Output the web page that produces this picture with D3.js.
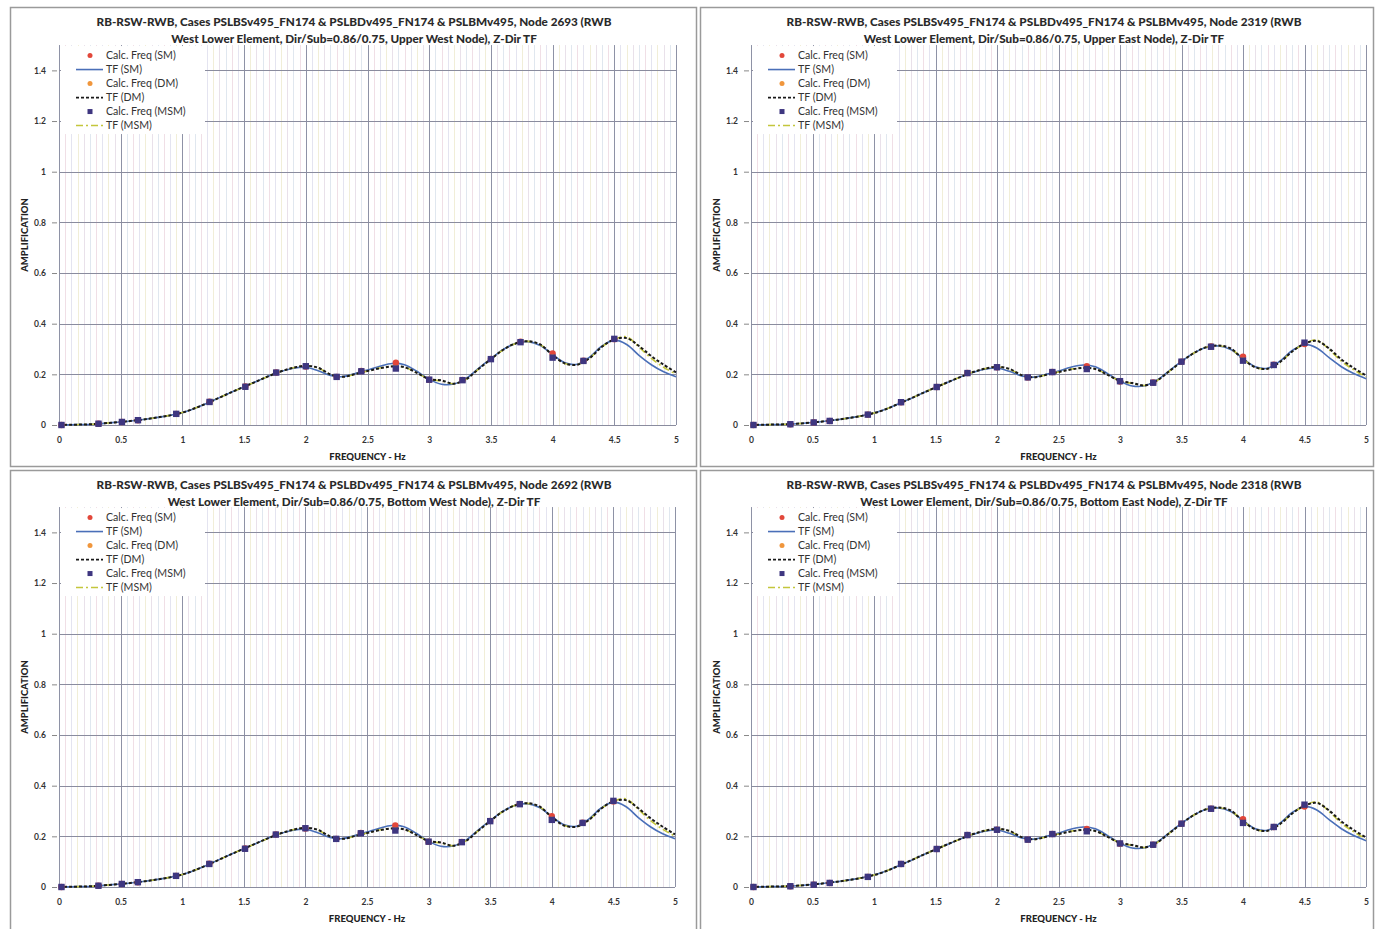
<!DOCTYPE html>
<html><head><meta charset="utf-8">
<script src="https://cdn.jsdelivr.net/npm/d3@7"></script>
<style>
html,body{margin:0;padding:0;background:#fff;}
svg{display:block;}
text{font-family:Lato,"Liberation Sans",Arial,sans-serif;}
</style></head><body>
<svg id="c" width="1375" height="929"></svg>
<script>
// ---------- DATA ----------
const tfFreq = [0,0.1,0.2,0.3,0.4,0.5,0.6,0.7,0.8,0.9,1,1.1,1.2,1.3,1.4,1.5,1.6,1.7,1.8,1.9,2,2.1,2.2,2.3,2.4,2.5,2.6,2.7,2.8,2.9,3,3.1,3.2,3.3,3.4,3.5,3.6,3.7,3.8,3.9,4,4.1,4.2,4.3,4.4,4.5,4.6,4.7,4.8,4.9,5];
const calcFreq = [0.02,0.32,0.51,0.64,0.95,1.22,1.51,1.76,2.0,2.25,2.45,2.73,3.0,3.27,3.5,3.74,4.0,4.25,4.5];
const xTicks = [0,0.5,1,1.5,2,2.5,3,3.5,4,4.5,5];
const yTicks = [0,0.2,0.4,0.6,0.8,1,1.2,1.4];
const legendLabels = ["Calc. Freq (SM)","TF (SM)","Calc. Freq (DM)","TF (DM)","Calc. Freq (MSM)","TF (MSM)"];

// Node 2693 (Upper West)
const tf2693SM  = [0,0.001,0.002,0.004,0.008,0.012,0.017,0.023,0.030,0.038,0.049,0.066,0.086,0.108,0.130,0.151,0.172,0.193,0.211,0.224,0.228,0.214,0.196,0.191,0.203,0.217,0.232,0.243,0.238,0.212,0.180,0.161,0.162,0.184,0.224,0.262,0.298,0.322,0.329,0.314,0.278,0.246,0.240,0.268,0.312,0.335,0.318,0.275,0.238,0.210,0.190];
const tf2693DM  = [0,0.001,0.002,0.004,0.008,0.012,0.017,0.023,0.030,0.038,0.049,0.066,0.086,0.108,0.130,0.151,0.172,0.193,0.212,0.226,0.234,0.226,0.200,0.190,0.201,0.213,0.224,0.231,0.228,0.206,0.181,0.176,0.163,0.181,0.221,0.260,0.297,0.322,0.331,0.318,0.276,0.243,0.238,0.264,0.309,0.338,0.343,0.312,0.272,0.238,0.208];
const tf2693MSM = [0,0.001,0.002,0.004,0.008,0.012,0.017,0.023,0.030,0.038,0.049,0.066,0.086,0.108,0.130,0.151,0.172,0.193,0.212,0.226,0.233,0.225,0.200,0.190,0.201,0.213,0.225,0.232,0.228,0.206,0.181,0.174,0.163,0.181,0.221,0.260,0.297,0.322,0.330,0.317,0.276,0.243,0.238,0.264,0.309,0.338,0.348,0.308,0.263,0.228,0.201];
const calc2693SM  = [0.000,0.005,0.012,0.019,0.044,0.092,0.152,0.207,0.231,0.190,0.213,0.246,0.178,0.178,0.261,0.329,0.282,0.254,0.339];
const calc2693DM  = [0.000,0.005,0.012,0.019,0.044,0.091,0.151,0.207,0.233,0.190,0.212,0.226,0.180,0.177,0.260,0.328,0.268,0.253,0.340];
const calc2693MSM = [0.000,0.005,0.012,0.019,0.044,0.091,0.151,0.207,0.232,0.190,0.212,0.223,0.179,0.177,0.260,0.327,0.266,0.253,0.340];

// Node 2319 (Upper East)
const tf2319SM  = [0,0.001,0.002,0.003,0.006,0.010,0.015,0.021,0.028,0.036,0.047,0.063,0.084,0.105,0.127,0.148,0.169,0.189,0.207,0.220,0.225,0.212,0.194,0.189,0.200,0.213,0.228,0.237,0.230,0.203,0.173,0.154,0.155,0.177,0.214,0.251,0.284,0.306,0.312,0.298,0.262,0.230,0.224,0.252,0.294,0.318,0.304,0.266,0.230,0.203,0.183];
const tf2319DM  = [0,0.001,0.002,0.003,0.006,0.010,0.015,0.021,0.028,0.036,0.047,0.063,0.084,0.105,0.127,0.148,0.169,0.189,0.208,0.222,0.230,0.222,0.197,0.188,0.198,0.209,0.219,0.225,0.221,0.198,0.174,0.166,0.156,0.175,0.212,0.250,0.284,0.307,0.314,0.302,0.260,0.228,0.222,0.248,0.290,0.321,0.332,0.302,0.259,0.225,0.196];
const tf2319MSM = [0,0.001,0.002,0.003,0.006,0.010,0.015,0.021,0.028,0.036,0.047,0.063,0.084,0.105,0.127,0.148,0.169,0.189,0.208,0.222,0.229,0.221,0.197,0.188,0.198,0.209,0.220,0.226,0.221,0.198,0.174,0.164,0.156,0.175,0.212,0.250,0.284,0.307,0.313,0.301,0.260,0.228,0.222,0.248,0.290,0.321,0.336,0.298,0.252,0.218,0.190];
const calc2319SM  = [0.000,0.003,0.010,0.016,0.041,0.090,0.150,0.205,0.228,0.188,0.209,0.232,0.172,0.168,0.250,0.310,0.270,0.238,0.320];
const calc2319DM  = [0.000,0.003,0.010,0.016,0.041,0.090,0.150,0.205,0.229,0.188,0.209,0.222,0.173,0.167,0.250,0.310,0.256,0.237,0.325];
const calc2319MSM = [0.000,0.003,0.010,0.016,0.041,0.090,0.150,0.205,0.228,0.188,0.209,0.221,0.173,0.167,0.250,0.309,0.254,0.237,0.325];

// Node 2692 (Bottom West)
const tf2692SM  = [0,0.001,0.002,0.004,0.008,0.012,0.017,0.023,0.030,0.038,0.049,0.066,0.086,0.108,0.130,0.151,0.172,0.193,0.211,0.224,0.228,0.214,0.196,0.191,0.203,0.217,0.232,0.243,0.238,0.212,0.180,0.161,0.162,0.184,0.224,0.262,0.298,0.322,0.329,0.314,0.278,0.246,0.240,0.268,0.312,0.335,0.318,0.275,0.238,0.210,0.190];
const tf2692DM  = [0,0.001,0.002,0.004,0.008,0.012,0.017,0.023,0.030,0.038,0.049,0.066,0.086,0.108,0.130,0.151,0.172,0.193,0.212,0.226,0.234,0.226,0.200,0.190,0.201,0.213,0.224,0.231,0.228,0.206,0.181,0.176,0.163,0.181,0.221,0.260,0.297,0.322,0.331,0.318,0.276,0.243,0.238,0.264,0.309,0.338,0.343,0.312,0.272,0.238,0.208];
const tf2692MSM = [0,0.001,0.002,0.004,0.008,0.012,0.017,0.023,0.030,0.038,0.049,0.066,0.086,0.108,0.130,0.151,0.172,0.193,0.212,0.226,0.233,0.225,0.200,0.190,0.201,0.213,0.225,0.232,0.228,0.206,0.181,0.174,0.163,0.181,0.221,0.260,0.297,0.322,0.330,0.317,0.276,0.243,0.238,0.264,0.309,0.338,0.348,0.308,0.263,0.228,0.201];
const calc2692SM  = [0.000,0.005,0.012,0.019,0.044,0.092,0.152,0.207,0.231,0.190,0.213,0.243,0.178,0.178,0.261,0.328,0.280,0.254,0.338];
const calc2692DM  = [0.000,0.005,0.012,0.019,0.044,0.091,0.151,0.207,0.233,0.190,0.212,0.226,0.180,0.177,0.260,0.328,0.267,0.253,0.340];
const calc2692MSM = [0.000,0.005,0.012,0.019,0.044,0.091,0.151,0.207,0.232,0.190,0.212,0.223,0.179,0.177,0.260,0.327,0.265,0.253,0.340];

// Node 2318 (Bottom East)
const tf2318SM  = [0,0.001,0.002,0.003,0.006,0.010,0.015,0.021,0.028,0.036,0.047,0.063,0.084,0.105,0.127,0.148,0.169,0.189,0.207,0.220,0.225,0.212,0.194,0.189,0.200,0.213,0.228,0.237,0.230,0.203,0.173,0.154,0.155,0.177,0.214,0.251,0.284,0.306,0.312,0.298,0.262,0.230,0.224,0.252,0.294,0.318,0.304,0.266,0.230,0.203,0.183];
const tf2318DM  = [0,0.001,0.002,0.003,0.006,0.010,0.015,0.021,0.028,0.036,0.047,0.063,0.084,0.105,0.127,0.148,0.169,0.189,0.208,0.222,0.230,0.222,0.197,0.188,0.198,0.209,0.219,0.225,0.221,0.198,0.174,0.166,0.156,0.175,0.212,0.250,0.284,0.307,0.314,0.302,0.260,0.228,0.222,0.248,0.290,0.321,0.332,0.302,0.259,0.225,0.196];
const tf2318MSM = [0,0.001,0.002,0.003,0.006,0.010,0.015,0.021,0.028,0.036,0.047,0.063,0.084,0.105,0.127,0.148,0.169,0.189,0.208,0.222,0.229,0.221,0.197,0.188,0.198,0.209,0.220,0.226,0.221,0.198,0.174,0.164,0.156,0.175,0.212,0.250,0.284,0.307,0.313,0.301,0.260,0.228,0.222,0.248,0.290,0.321,0.336,0.298,0.252,0.218,0.190];
const calc2318SM  = [0.000,0.003,0.009,0.016,0.040,0.091,0.150,0.205,0.226,0.187,0.209,0.229,0.171,0.167,0.250,0.309,0.268,0.237,0.318];
const calc2318DM  = [0.000,0.003,0.009,0.016,0.040,0.091,0.150,0.205,0.227,0.187,0.209,0.221,0.172,0.167,0.250,0.309,0.254,0.237,0.325];
const calc2318MSM = [0.000,0.003,0.009,0.016,0.040,0.091,0.150,0.205,0.226,0.187,0.209,0.220,0.172,0.167,0.250,0.309,0.253,0.237,0.325];

// ---------- LAYOUT ----------
const panels = [
  {node:"2693", where:"Upper West Node",  sm:tf2693SM, dm:tf2693DM, msm:tf2693MSM, csm:calc2693SM, cdm:calc2693DM, cmsm:calc2693MSM,
   box:[10.5,7.5,686,459], left:59, right:676, base:425, titleX:354, titleY:22},
  {node:"2319", where:"Upper East Node",  sm:tf2319SM, dm:tf2319DM, msm:tf2319MSM, csm:calc2319SM, cdm:calc2319DM, cmsm:calc2319MSM,
   box:[700.5,7.5,673,459], left:751, right:1366, base:425, titleX:1044, titleY:22},
  {node:"2692", where:"Bottom West Node", sm:tf2692SM, dm:tf2692DM, msm:tf2692MSM, csm:calc2692SM, cdm:calc2692DM, cmsm:calc2692MSM,
   box:[10.5,470.5,686,470], left:59, right:675, base:887, titleX:354, titleY:485},
  {node:"2318", where:"Bottom East Node", sm:tf2318SM, dm:tf2318DM, msm:tf2318MSM, csm:calc2318SM, cdm:calc2318DM, cmsm:calc2318MSM,
   box:[700.5,470.5,673,470], left:751, right:1366, base:887, titleX:1044, titleY:485}
];
const pxPerUnit = 253.3;
const COL = {sm:"#4a6fb8", dm:"#1a1a1a", msm:"#c4c63c", csm:"#e2473a", cdm:"#f0963c", cmsm:"#3e3680"};
const minorCols = ["#f0dfe6","#e4e4f0","#f1eed8","#e9e1ea","#e0e7ef"];

const svg = d3.select("#c");
svg.append("rect").attr("width",1375).attr("height",929).attr("fill","#fff");

panels.forEach(p => {
  const g = svg.append("g");
  g.append("rect").attr("x",p.box[0]).attr("y",p.box[1]).attr("width",p.box[2]).attr("height",p.box[3])
    .attr("fill","#fff").attr("stroke","#9a9a9a").attr("stroke-width",1.5);

  const x = d3.scaleLinear().domain([0,5]).range([p.left,p.right]);
  const y = d3.scaleLinear().domain([0,1.5]).range([p.base, p.base-1.5*pxPerUnit]);
  const top = y(1.5);

  // minor vertical gridlines every 0.05 Hz
  const minor = d3.range(1,100).filter(i => i%10!==0).map(i => i*0.05);
  g.append("g").selectAll("line").data(minor).join("line")
    .attr("x1",d=>Math.round(x(d))+0.5).attr("x2",d=>Math.round(x(d))+0.5)
    .attr("y1",top).attr("y2",p.base)
    .attr("stroke",(d,i)=>minorCols[i%minorCols.length]).attr("stroke-width",1);

  // major gridlines
  g.append("g").selectAll("line").data(xTicks).join("line")
    .attr("x1",d=>Math.round(x(d))+0.5).attr("x2",d=>Math.round(x(d))+0.5)
    .attr("y1",top).attr("y2",p.base).attr("stroke","#8e92a6").attr("stroke-width",1);
  g.append("g").selectAll("line").data(yTicks).join("line")
    .attr("x1",p.left).attr("x2",p.right)
    .attr("y1",d=>Math.round(y(d))+0.5).attr("y2",d=>Math.round(y(d))+0.5)
    .attr("stroke","#8a8c9e").attr("stroke-width",1.2);

  // axes
  const ax = g.append("g").attr("transform",`translate(0,${p.base})`)
    .call(d3.axisBottom(x).tickValues(xTicks).tickSize(0).tickPadding(12).tickFormat(d3.format("")));
  ax.select(".domain").remove();
  ax.selectAll("text").attr("font-size","8.5px").attr("font-weight","bold").attr("fill","#333");
  const ay = g.append("g").attr("transform",`translate(${p.left-2},0)`)
    .call(d3.axisLeft(y).tickValues(yTicks).tickSize(5).tickPadding(6).tickFormat(d3.format("")));
  ay.select(".domain").remove();
  ay.selectAll("line").attr("stroke","#888");
  ay.selectAll("text").attr("font-size","8.5px").attr("font-weight","bold").attr("fill","#333");

  // axis titles
  g.append("text").attr("x",(p.left+p.right)/2).attr("y",p.base+35).attr("text-anchor","middle")
    .attr("font-size","9.5px").attr("font-weight","900").attr("fill","#222").text("FREQUENCY - Hz");
  g.append("text").attr("transform",`translate(${p.left-31},${(top+p.base)/2}) rotate(-90)`)
    .attr("text-anchor","middle").attr("font-size","9.5px").attr("font-weight","900").attr("fill","#222").text("AMPLIFICATION");

  // title
  const t1 = g.append("text").attr("x",p.titleX).attr("y",p.titleY+4).attr("text-anchor","middle")
    .attr("font-weight","900").attr("fill","#2a2a2a").attr("font-size","11px")
    .text(`RB-RSW-RWB, Cases PSLBSv495_FN174 & PSLBDv495_FN174 & PSLBMv495, Node ${p.node} (RWB`);
  const w = t1.node().getComputedTextLength();
  const fs = 11*515/w;
  t1.attr("font-size",fs+"px");
  g.append("text").attr("x",p.titleX).attr("y",p.titleY+21).attr("text-anchor","middle")
    .attr("font-weight","900").attr("fill","#2a2a2a").attr("font-size",fs+"px")
    .text(`West Lower Element, Dir/Sub=0.86/0.75, ${p.where}), Z-Dir TF`);

  // curves
  const line = arr => d3.line().x((d,i)=>x(tfFreq[i])).y(d=>y(d)).curve(d3.curveCatmullRom.alpha(0.5))(arr);
  g.append("path").attr("d",line(p.sm)).attr("fill","none").attr("stroke",COL.sm).attr("stroke-width",1.6);
  g.append("path").attr("d",line(p.msm)).attr("fill","none").attr("stroke",COL.msm).attr("stroke-width",1.6).attr("stroke-dasharray","7,3,2,3");
  g.append("path").attr("d",line(p.dm)).attr("fill","none").attr("stroke",COL.dm).attr("stroke-width",2).attr("stroke-dasharray","3,2");

  // markers
  g.append("g").selectAll("circle").data(p.csm).join("circle")
    .attr("cx",(d,i)=>x(calcFreq[i])).attr("cy",d=>y(d)).attr("r",3.2).attr("fill",COL.csm);
  g.append("g").selectAll("circle").data(p.cdm).join("circle")
    .attr("cx",(d,i)=>x(calcFreq[i])).attr("cy",d=>y(d)).attr("r",2.8).attr("fill",COL.cdm);
  g.append("g").selectAll("rect").data(p.cmsm).join("rect")
    .attr("x",(d,i)=>x(calcFreq[i])-3.2).attr("y",d=>y(d)-3.2).attr("width",6.4).attr("height",6.4).attr("fill",COL.cmsm);

  // legend
  const lg = g.append("g");
  lg.append("rect").attr("x",p.left+2).attr("y",top+1).attr("width",144).attr("height",88).attr("fill","#fff");
  legendLabels.forEach((lab,i) => {
    const ly = top + 10.5 + i*14;
    const mx = p.left + 31;
    if (i===0) lg.append("circle").attr("cx",mx).attr("cy",ly).attr("r",2.5).attr("fill",COL.csm);
    if (i===2) lg.append("circle").attr("cx",mx).attr("cy",ly).attr("r",2.5).attr("fill",COL.cdm);
    if (i===4) lg.append("rect").attr("x",mx-2.5).attr("y",ly-2.5).attr("width",5).attr("height",5).attr("fill",COL.cmsm);
    if (i===1) lg.append("line").attr("x1",p.left+17).attr("x2",p.left+44).attr("y1",ly).attr("y2",ly).attr("stroke",COL.sm).attr("stroke-width",1.6);
    if (i===3) lg.append("line").attr("x1",p.left+17).attr("x2",p.left+44).attr("y1",ly).attr("y2",ly).attr("stroke",COL.dm).attr("stroke-width",1.8).attr("stroke-dasharray","3,2");
    if (i===5) lg.append("line").attr("x1",p.left+17).attr("x2",p.left+44).attr("y1",ly).attr("y2",ly).attr("stroke",COL.msm).attr("stroke-width",1.6).attr("stroke-dasharray","7,3,2,3");
    lg.append("text").attr("x",p.left+47).attr("y",ly+3.5).attr("font-size","10.6px").attr("fill","#333").text(lab);
  });
});
</script>
</body></html>
